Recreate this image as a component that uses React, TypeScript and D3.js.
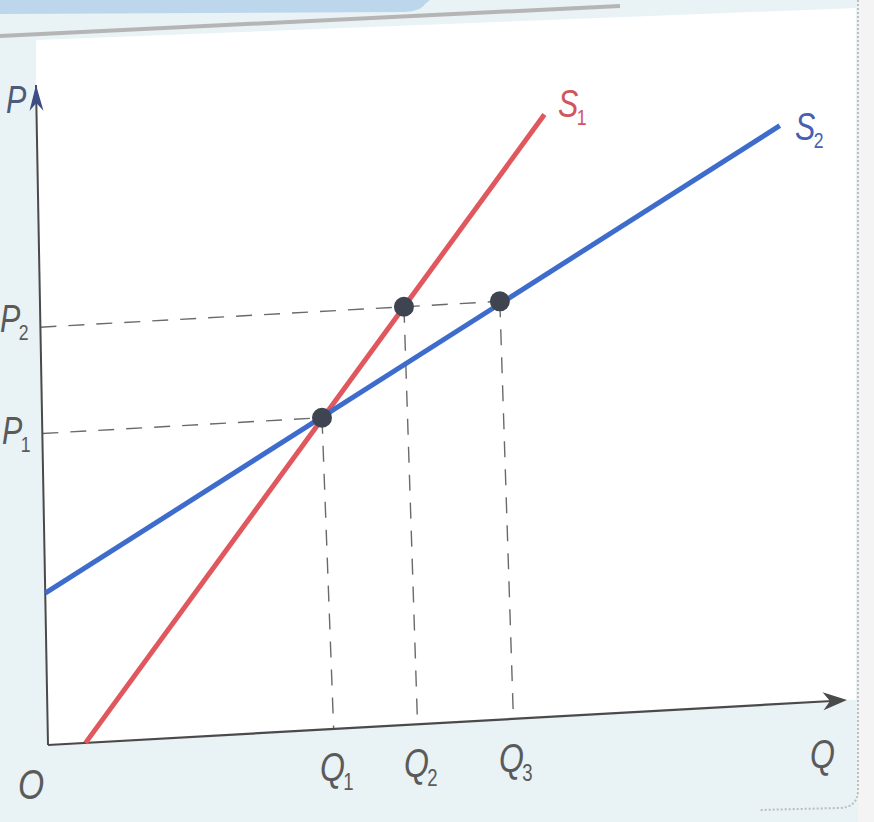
import React from "react";
import * as d3 from "d3";

// Data in abstract economic units (0..10 on each axis)
const S1 = [ { q: 0.47, p: 0 }, { q: 6.35, p: 9.12 } ];
const S2 = [ { q: 0, p: 2.3 }, { q: 9.29, p: 8.75 } ];
const equilibria = [
  { name: "E1", q: 3.5, p: 4.72 },
  { name: "E2", q: 4.55, p: 6.33 },
  { name: "E3", q: 5.75, p: 6.33 },
];
const priceLevels = [
  { label: "P", sub: "2", p: 6.33, qEnd: 5.75 },
  { label: "P", sub: "1", p: 4.72, qEnd: 3.5 },
];
const quantityLevels = [
  { label: "Q", sub: "1", q: 3.5, pTop: 4.72 },
  { label: "Q", sub: "2", q: 4.55, pTop: 6.33 },
  { label: "Q", sub: "3", q: 5.75, pTop: 6.33 },
];

const W = 874;
const H = 822;

// scan is slightly skewed: axes are affine-mapped
const ORIGIN: [number, number] = [48, 745];
const EX: [number, number] = [799, -45];
const EY: [number, number] = [-12, -660];
const xs = d3.scaleLinear().domain([0, 10]).range([0, 1]);
const ys = d3.scaleLinear().domain([0, 10]).range([0, 1]);

function proj(q: number, p: number): [number, number] {
  const a = xs(q);
  const b = ys(p);
  return [ORIGIN[0] + EX[0] * a + EY[0] * b, ORIGIN[1] + EX[1] * a + EY[1] * b];
}

const line = d3
  .line<{ q: number; p: number }>()
  .x((d) => proj(d.q, d.p)[0])
  .y((d) => proj(d.q, d.p)[1]);

const FONT = "'Liberation Sans', Arial, sans-serif";
const LABEL = "#5a5a5a";

function Label({ x, y, t, sub, color, size = 40 }: any) {
  return (
    <g transform={`translate(${x},${y}) scale(0.8,1)`}>
      <text x={0} y={0} fill={color || LABEL} fontFamily={FONT} fontStyle="italic" fontSize={size}>
        {t}
        {sub && (
          <tspan fontSize={size * 0.58} dy={size * 0.22} dx={-2} fontStyle="normal">
            {sub}
          </tspan>
        )}
      </text>
    </g>
  );
}

export default function App() {
  const o = proj(0, 0);
  const yTop = proj(0, 10);
  const xEnd = proj(10, 0);

  const ang = Math.atan2(EX[1], EX[0]);
  const rot = (dx: number, dy: number, base: [number, number]) => [
    base[0] + dx * Math.cos(ang) - dy * Math.sin(ang),
    base[1] + dx * Math.sin(ang) + dy * Math.cos(ang),
  ];
  const xa = [rot(0, 0, xEnd), rot(-24, -9, xEnd), rot(-17, 0, xEnd), rot(-24, 9, xEnd)];
  const angY = Math.atan2(EY[1], EY[0]);
  const rotY = (dx: number, dy: number, base: [number, number]) => [
    base[0] + dx * Math.cos(angY) - dy * Math.sin(angY),
    base[1] + dx * Math.sin(angY) + dy * Math.cos(angY),
  ];
  const ya = [rotY(0, 0, yTop), rotY(-26, -7, yTop), rotY(-18, 0, yTop), rotY(-26, 7, yTop)];

  return (
    <svg width={W} height={H} style={{ position: "absolute", left: 0, top: 0 }}>
      <rect x={0} y={0} width={W} height={H} fill="#e9f2f5" />
      <polygon
        points={`${o[0]},${o[1]} ${yTop[0]},${yTop[1]} 36,40 856,8 856,${xEnd[1]} ${xEnd[0]},${xEnd[1]}`}
        fill="#ffffff"
      />
      <rect x={858} y={0} width={16} height={H} fill="#f4f4f4" />
      <path d="M0,10 L0,0 L430,0 L425,4 Q420,12 400,12 L0,14 Z" fill="#bcd6ec" />
      <path d="M0,36 L620,6" stroke="#b5b5b5" strokeWidth={4} fill="none" />
      <path
        d="M858,0 L858,790 Q858,808 838,808 L760,810"
        stroke="#bdbdbd"
        strokeWidth={2}
        strokeDasharray="2 2"
        fill="none"
      />

      {/* dashed guides */}
      {priceLevels.map((d, i) => {
        const a = proj(0, d.p);
        const b = proj(d.qEnd, d.p);
        return (
          <line key={"h" + i} x1={a[0]} y1={a[1]} x2={b[0]} y2={b[1]} stroke="#6a6a6a" strokeWidth={1.4} strokeDasharray="16 12" />
        );
      })}
      {quantityLevels.map((d, i) => {
        const a = proj(d.q, d.pTop);
        const b = proj(d.q, 0);
        return (
          <line key={"v" + i} x1={a[0]} y1={a[1]} x2={b[0] + 6} y2={b[1]} stroke="#6a6a6a" strokeWidth={1.4} strokeDasharray="16 12" />
        );
      })}

      {/* axes */}
      <line x1={o[0]} y1={o[1]} x2={yTop[0]} y2={yTop[1]} stroke="#4a4a4a" strokeWidth={2} />
      <line x1={o[0]} y1={o[1]} x2={xEnd[0] - 15} y2={xEnd[1] + 1} stroke="#4a4a4a" strokeWidth={2.2} />
      <polygon points={xa.map((p) => p.join(",")).join(" ")} fill="#4a4a4a" />
      <polygon points={ya.map((p) => p.join(",")).join(" ")} fill="#3e4c86" />

      {/* supply curves */}
      <path d={line(S1) || ""} stroke="#e0585e" strokeWidth={5} fill="none" />
      <path d={line(S2) || ""} stroke="#3d6ccc" strokeWidth={5} fill="none" />

      {equilibria.map((d) => {
        const [cx, cy] = proj(d.q, d.p);
        return <circle key={d.name} cx={cx} cy={cy} r={10} fill="#3f4550" />;
      })}

      {/* labels */}
      <Label x={6} y={113} t="P" color="#4d5a78" size={38} />
      <Label x={0} y={332} t="P" sub="2" size={38} />
      <Label x={2} y={444} t="P" sub="1" size={38} />
      <Label x={18} y={799} t="O" size={42} />
      <Label x={320} y={781} t="Q" sub="1" size={40} />
      <Label x={404} y={777} t="Q" sub="2" size={40} />
      <Label x={499} y={772} t="Q" sub="3" size={40} />
      <Label x={810} y={768} t="Q" size={40} />
      <Label x={558} y={117} t="S" sub="1" color="#d0555d" size={38} />
      <Label x={795} y={140} t="S" sub="2" color="#4760b0" size={38} />
    </svg>
  );
}
